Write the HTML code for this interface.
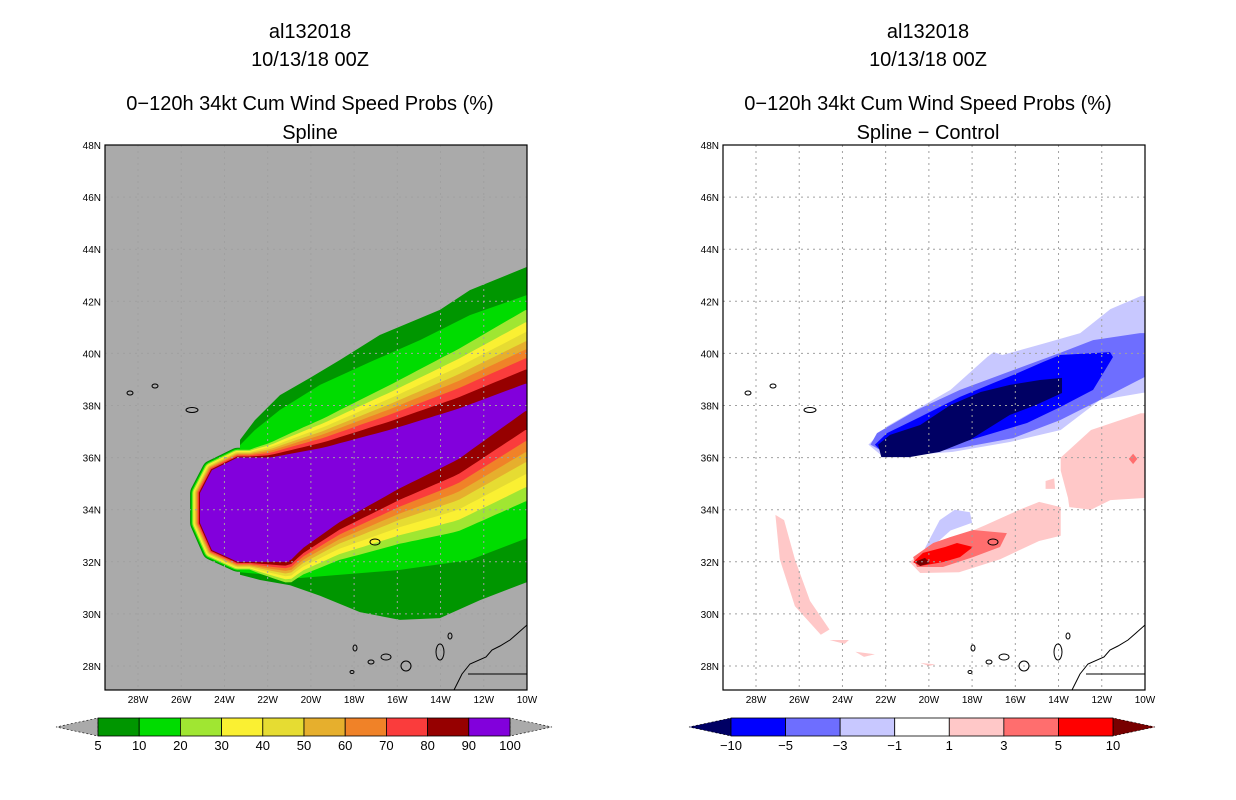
<!DOCTYPE html>
<html><head><meta charset="utf-8"><style>
body{margin:0;background:#fff;width:1236px;height:800px;overflow:hidden}
svg{display:block}
text{font-family:"Liberation Sans",sans-serif}
</style></head><body>
<svg id="s" width="1236" height="800" viewBox="0 0 1236 800" xmlns="http://www.w3.org/2000/svg">
<g font-size="20" text-anchor="middle" fill="#000">
<text x="310" y="38">al132018</text><text x="310" y="66">10/13/18 00Z</text>
<text x="310" y="110">0−120h 34kt Cum Wind Speed Probs (%)</text><text x="310" y="139">Spline</text></g>
<g font-size="20" text-anchor="middle" fill="#000">
<text x="928" y="38">al132018</text><text x="928" y="66">10/13/18 00Z</text>
<text x="928" y="110">0−120h 34kt Cum Wind Speed Probs (%)</text><text x="928" y="139">Spline − Control</text></g>
<defs><clipPath id="cl"><rect x="105" y="145" width="422" height="545"/></clipPath>
<clipPath id="cr"><rect x="723" y="145" width="422" height="545"/></clipPath></defs>
<g id="left" clip-path="url(#cl)"><rect x="105" y="145" width="422" height="545" fill="#aaaaaa"/></g>
<g id="right" clip-path="url(#cr)"><rect x="723" y="145" width="422" height="545" fill="#fff"/></g>
</svg>
<script>
const NS="http://www.w3.org/2000/svg";
// ---- data ----
const levelLabels=["5","10","20","30","40","50","60","70","80","90","100"];
const levelColors=["#009600","#00dc00","#a0e632","#faf032","#e6dc32","#e6af2d","#f08228","#fa3c3c","#960000","#8200dc"];
const topEdgeLat=[43.32,42.24,41.40,40.97,40.63,40.32,40.05,39.75,39.36,38.86];
const botEdgeLat=[31.22,32.91,34.64,35.14,35.60,36.02,36.37,36.75,37.14,37.83];
const upper5=[[23.28,36.68],[22.59,37.44],[21.43,38.4],[20.04,39.06],[18.65,39.75],[16.8,40.71],[14.03,41.67],[12.64,42.43],[10,43.32]];
const lower5=[[23.28,31.5],[22.35,31.3],[20.96,31.1],[19.58,30.7],[17.73,30.07],[15.88,29.77],[14.03,29.84],[12.17,30.53],[10,31.22]];
const upper10=[[23.28,36.48],[22.59,37.06],[21.43,37.83],[19.58,38.79],[17.26,39.67],[14.95,40.51],[12.64,41.47],[10,42.24]];
const lower10=[[23.28,31.6],[20.5,31.38],[18.65,31.5],[15.88,31.69],[12.64,32.07],[10,32.91]];
const purpleUpper=[[23.4,36.0],[21.9,36.0],[19.4,36.4],[16.3,37.1],[13.2,37.9],[10,38.9]];
const purpleLower=[[23.4,32.0],[21.0,32.0],[20.4,32.5],[18.7,33.5],[15.9,34.8],[13.2,35.9],[10,37.8]];
const octagon=[[25.13,34.64],[24.58,35.52],[23.4,36.0],[21.0,36.0],[21.0,32.0],[23.4,32.0],[24.58,32.45],[25.13,33.49]];
const diffLabels=["−10","−5","−3","−1","1","3","5","10"];
const diffColors=["#000064","#0000ff","#6e6eff","#c8c8ff","#ffffff","#ffc8c8","#ff6e6e","#ff0000","#780000"];
const neg1=[[22.8,36.5],[21.94,37.2],[19.0,38.6],[17.3,39.86],[17.0,40.05],[16.6,39.94],[14.6,40.4],[13.0,40.78],[11.6,41.7],[10.2,42.2],[10,42.2],[10,38.5],[12.1,38.2],[13.9,37.06],[16.25,36.6],[18.9,36.22],[22.1,36.02]];
const neg1b=[[20.2,32.5],[19.5,33.6],[18.8,34.0],[18.1,33.9],[18.0,33.5],[19.0,33.2],[19.95,32.5]];
const neg3=[[22.7,36.5],[22.4,36.94],[20.55,37.83],[18.56,38.6],[16.1,39.36],[13.93,40.02],[12.4,40.51],[10.23,40.78],[10,40.78],[10,39.1],[12.08,38.21],[13.93,37.44],[16.1,36.75],[18.56,36.37],[21.66,36.02]];
const neg5=[[22.5,36.5],[21.94,36.94],[20.41,37.56],[18.56,38.33],[17.03,38.86],[16.1,39.17],[14.72,39.67],[13.93,39.94],[11.62,40.05],[11.48,39.86],[12.4,38.6],[13.93,37.94],[15.46,37.33],[18.56,36.56],[20.1,36.18],[21.94,36.02]];
const neg10=[[22.35,36.5],[21.8,36.87],[20.4,37.25],[19.0,38.02],[17.6,38.52],[16.25,38.79],[14.86,38.98],[13.84,39.06],[13.84,38.48],[15.1,38.0],[16.25,37.64],[18.1,36.68],[19.5,36.22],[20.9,36.02],[22.2,36.02]];
const pos1a=[[20.9,32.0],[19.95,32.5],[17.4,33.4],[15.8,34.0],[14.9,34.3],[13.9,34.1],[13.9,33.0],[14.9,32.8],[16.7,32.1],[18.6,31.6],[20.4,31.57]];
const pos1b=[[13.9,36.0],[12.5,37.06],[10.2,37.7],[10,37.7],[10,34.45],[11.6,34.37],[12.5,34.0],[13.5,34.1],[13.56,34.45],[13.9,35.5]];
const pos1c=[[27.1,33.8],[26.7,33.6],[26.2,32.1],[25.5,30.5],[24.6,29.4],[25.0,29.2],[26.2,30.3],[26.9,32.1]];
const pos1d=[[14.6,35.1],[14.2,35.2],[14.16,34.8],[14.6,34.8]];
const pos1e=[[24.6,29.0],[23.7,29.0],[23.9,28.85]];
const pos1f=[[23.4,28.55],[22.5,28.45],[23.0,28.35]];
const pos1g=[[20.4,28.12],[19.7,28.06],[20.0,28.0]];
const pos3=[[20.73,32.18],[19.8,32.72],[19.02,32.95],[17.96,33.22],[16.39,33.1],[16.71,32.57],[17.96,32.18],[19.35,31.8],[20.55,31.8]];
const pos3b=[[10.75,35.95],[10.55,36.15],[10.35,35.95],[10.55,35.75]];
const pos5=[[20.73,31.99],[20.27,32.34],[19.25,32.57],[18.7,32.72],[17.96,32.57],[18.56,32.18],[19.35,31.99],[20.4,31.84]];
const pos10=[[20.64,32.0],[20.18,32.15],[19.95,31.95],[20.4,31.84]];
const lonTicks=[28,26,24,22,20,18,16,14,12,10];
const latTicks=[48,46,44,42,40,38,36,34,32,30,28];
// ---- axes ----
function X(w,off){return 138+off+(28-w)*21.61}
function Y(lat){return 666-(lat-28)*26.05}
const svg=document.getElementById('s');
function el(tag,attrs,parent){const e=document.createElementNS(NS,tag);for(const k in attrs)e.setAttribute(k,attrs[k]);(parent||svg).appendChild(e);return e}
function pts(arr,off){return arr.map(p=>X(p[0],off).toFixed(1)+","+Y(p[1]).toFixed(1)).join(" ")}
function interp(curve,x,off){const P=curve.map(p=>[X(p[0],off),Y(p[1])]);if(x<=P[0][0])return P[0][1];for(let i=1;i<P.length;i++){if(x<=P[i][0]){const t=(x-P[i-1][0])/(P[i][0]-P[i-1][0]);return P[i-1][1]+t*(P[i][1]-P[i-1][1])}}return P[P.length-1][1]}
// ---- left panel ----
const L=document.getElementById('left');
const xR=X(10,0);
const pu=interp(purpleUpper,xR,0), pl=interp(purpleLower,xR,0);
for(let k=0;k<levelColors.length;k++){
  const rim=(levelColors.length-1-k)*1.1;
  const o=el('polygon',{points:pts(octagon,0),fill:levelColors[k],stroke:levelColors[k],'stroke-width':rim*2,'stroke-linejoin':'round'},L);
  
  
  let up=[],lo=[];
  if(k<2){
    const U=k==0?upper5:upper10, D=k==0?lower5:lower10;
    up=U.map(p=>[X(p[0],0),Y(p[1])]);
    lo=D.map(p=>[X(p[0],0),Y(p[1])]);
  } else {
    const dt=pu-Y(topEdgeLat[k]), db=Y(botEdgeLat[k])-pl;
    for(let x=X(23.4,0);x<=xR+0.1;x+=6){
      const s=Math.min(1,Math.max(0,(x-250)/(xR-250)));
      up.push([x,interp(purpleUpper,x,0)-rim-dt*Math.pow(s,0.85)]);
      lo.push([x,interp(purpleLower,x,0)+rim+db*Math.pow(s,0.9)]);
    }
  }
  const poly=up.concat([[xR+5,up[up.length-1][1]],[xR+5,lo[lo.length-1][1]]]).concat(lo.slice().reverse());
  const c=el('polygon',{points:poly.map(p=>p[0].toFixed(1)+","+p[1].toFixed(1)).join(" "),fill:levelColors[k]},L);
  
  
}
// ---- right panel ----
const R=document.getElementById('right');
const fills=[[neg1,3],[neg1b,3],[neg3,2],[neg5,1],[neg10,0],[pos1a,5],[pos1b,5],[pos1c,5],[pos1d,5],[pos1e,5],[pos1f,5],[pos1g,5],[pos3,6],[pos3b,6],[pos5,7],[pos10,8]];
fills.forEach((f,i)=>{
  const p=el('polygon',{points:pts(f[0],618),fill:diffColors[f[1]]},R);
  
  
});
// ---- grid, coasts, frames, ticks ----
[[0,L],[618,R]].forEach(([off,G])=>{
  lonTicks.forEach(w=>{const l=el('line',{x1:X(w,off),x2:X(w,off),y1:145,y2:690,stroke:'#a0a0a0','stroke-dasharray':'2,4','stroke-width':1},G);
    });
  latTicks.forEach(a=>{const l=el('line',{x1:105+off,x2:527+off,y1:Y(a),y2:Y(a),stroke:'#a0a0a0','stroke-dasharray':'2,4','stroke-width':1},G);
    });
  const c=el('g',{transform:`translate(${off},0)`,fill:'none',stroke:'#000','stroke-width':1},G);
  
  el('path',{d:"M527,625 L518,633 L510,640 L500,646 L492,650 L486,657 L470,664 L462,674 L457,684 L454,690 M468,674 L527,674"},c);
  [[130,393,3,2],[155,386,3,2],[192,410,6,2.5],[375,542,5,3],[355,648,2,3],[352,672,2,1.5],[371,662,3,2],[386,657,5,3],[406,666,5,5],[440,652,4,8],[450,636,2,3]].forEach(e=>el('ellipse',{cx:e[0],cy:e[1],rx:e[2],ry:e[3]},c));
  const fr=el('rect',{x:105+off,y:145,width:422,height:545,fill:'none',stroke:'#000','stroke-width':1.2});
  
  lonTicks.forEach(w=>{const t=el('text',{x:X(w,off),y:703,'font-size':10,'text-anchor':'middle'});t.textContent=w+'W';
    });
  latTicks.forEach(a=>{const t=el('text',{x:101+off,y:Y(a)+4,'font-size':10,'text-anchor':'end'});t.textContent=a+'N';
    });
});
// ---- colorbars ----
function colorbar(x0,x1,labels,colors,endL,endR,name){
  const g=el('g',{});
  const n=colors.length, w=(x1-x0)/n;
  el('polygon',{points:`${x0},718 ${x0},736 ${x0-42},727`,fill:endL,stroke:'#000','stroke-width':0.6,'stroke-dasharray':'2,2'},g);
  el('polygon',{points:`${x1},718 ${x1},736 ${x1+42},727`,fill:endR,stroke:'#000','stroke-width':0.6,'stroke-dasharray':'2,2'},g);
  colors.forEach((c,i)=>el('rect',{x:x0+i*w,y:718,width:w,height:18,fill:c,stroke:'#000','stroke-width':0.8},g));
  labels.forEach((l,i)=>{const t=el('text',{x:x0+i*w,y:750,'font-size':13,'text-anchor':'middle'},g);t.textContent=l;});
}
colorbar(98,510,levelLabels,levelColors,"#aaaaaa","#aaaaaa","left-colorbar");
colorbar(731,1113,diffLabels,diffColors.slice(1,8),diffColors[0],diffColors[8],"right-colorbar");
</script>
</body></html>
